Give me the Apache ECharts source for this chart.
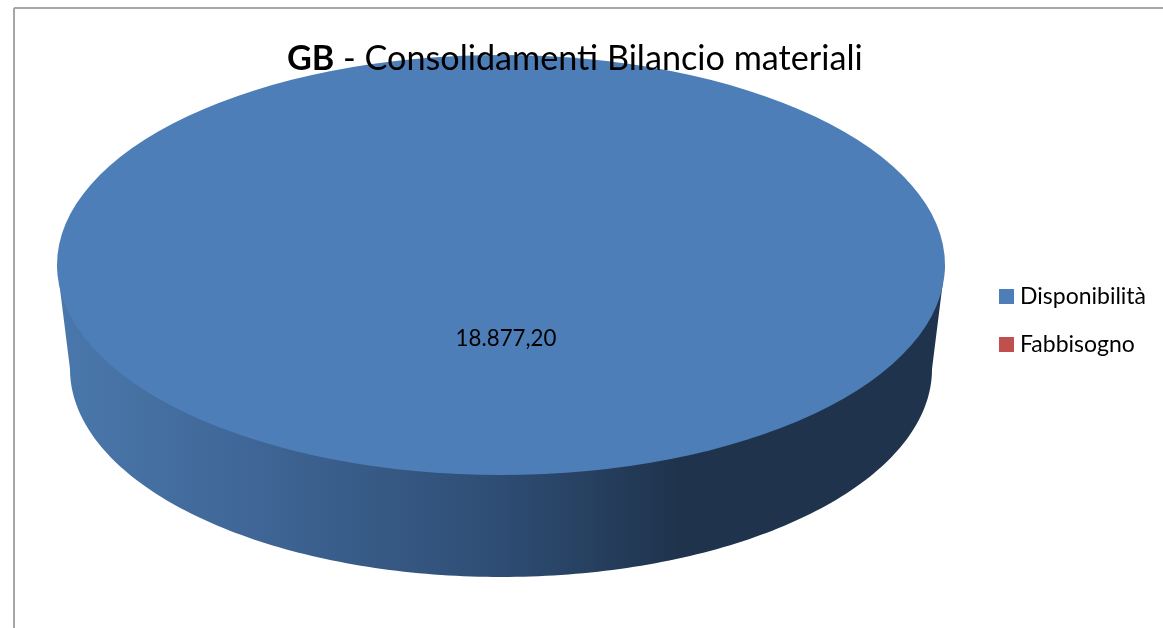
<!DOCTYPE html>
<html>
<head>
<meta charset="utf-8">
<style>html,body{margin:0;padding:0;background:#fff}#c{width:1163px;height:628px}</style>
<script src="https://cdn.jsdelivr.net/npm/echarts@6/dist/echarts.min.js"></script>
</head>
<body>
<div id="c"></div>
<script>
const categories = ['Disponibilità', 'Fabbisogno'];
const disponibilita = [18877.20];
const fabbisogno = [0];
const colors = ['#4d7eb8', '#c0504d'];
const FONT = 'Lato, "Open Sans", sans-serif';

const total = disponibilita[0] + fabbisogno[0];
const top3d = { cx: 501, cy: 265, rx: 444, ry: 210 };
const base3d = { cx: 501, cy: 369, rx: 431, ry: 208 };

function wallPoints() {
  const pts = [[top3d.cx - top3d.rx, top3d.cy]];
  for (let i = 0; i <= 180; i++) {
    const a = Math.PI - i * Math.PI / 180;
    pts.push([base3d.cx + base3d.rx * Math.cos(a), base3d.cy + base3d.ry * Math.sin(a)]);
  }
  pts.push([top3d.cx + top3d.rx, top3d.cy]);
  return pts;
}

function formatIt(v) {
  return v.toLocaleString('it-IT', { minimumFractionDigits: 2, maximumFractionDigits: 2 });
}

function sliceRenderer(startShare) {
  return function (params, api) {
    const value = api.value(0);
    if (!value) return { type: 'group', children: [] };
    const start = -Math.PI / 2 + startShare * 2 * Math.PI;
    const end = start + value / total * 2 * Math.PI;
    return {
      type: 'group',
      children: [
        {
          type: 'polygon',
          shape: { points: wallPoints() },
          style: {
            fill: new echarts.graphic.LinearGradient(0, 0, 1, 0, [
              { offset: 0, color: '#4a78ac' },
              { offset: 0.22, color: '#3f6696' },
              { offset: 0.5, color: '#2e4d74' },
              { offset: 0.7, color: '#1f334c' },
              { offset: 1, color: '#1f334c' }
            ])
          }
        },
        {
          type: 'sector',
          x: top3d.cx,
          y: top3d.cy,
          scaleX: top3d.rx,
          scaleY: top3d.ry,
          shape: { cx: 0, cy: 0, r: 1, r0: 0, startAngle: start, endAngle: end },
          style: { fill: api.visual('color') }
        },
        {
          type: 'text',
          x: 506,
          y: 339,
          style: {
            text: formatIt(value),
            fill: '#000',
            font: '22.3px ' + FONT,
            textAlign: 'center',
            textVerticalAlign: 'middle'
          }
        }
      ]
    };
  };
}

const chart = echarts.init(document.getElementById('c'), null, { renderer: 'canvas' });
chart.setOption({
  animation: false,
  backgroundColor: '#fff',
  title: {
    text: '{b|GB}{n| - Consolidamenti Bilancio materiali}',
    left: 282,
    top: 37,
    z: 10,
    textStyle: {
      rich: {
        b: { fontFamily: FONT, fontSize: 34.2, fontWeight: 'bold', color: '#000' },
        n: { fontFamily: FONT, fontSize: 34.2, fontWeight: 'normal', color: '#000' }
      }
    }
  },
  legend: {
    orient: 'vertical',
    left: 999,
    top: 285,
    itemWidth: 15,
    itemHeight: 15,
    itemGap: 25,
    icon: 'rect',
    data: categories,
    textStyle: { fontFamily: FONT, fontSize: 23, color: '#000', padding: [0, 0, 0, 1] },
    padding: 0
  },
  graphic: [
    { type: 'line', z: 0, shape: { x1: 14, y1: 8, x2: 1163, y2: 8 }, style: { stroke: '#a6a6a6', lineWidth: 2 } },
    { type: 'line', z: 0, shape: { x1: 14, y1: 8, x2: 14, y2: 628 }, style: { stroke: '#a6a6a6', lineWidth: 2 } }
  ],
  series: [
    {
      type: 'custom',
      name: categories[0],
      coordinateSystem: 'none',
      itemStyle: { color: colors[0] },
      data: disponibilita.map(v => [v]),
      silent: true,
      renderItem: sliceRenderer(0)
    },
    {
      type: 'custom',
      name: categories[1],
      coordinateSystem: 'none',
      itemStyle: { color: colors[1] },
      data: fabbisogno.map(v => [v]),
      silent: true,
      renderItem: sliceRenderer(disponibilita[0] / total)
    }
  ]
});
</script>
</body>
</html>
